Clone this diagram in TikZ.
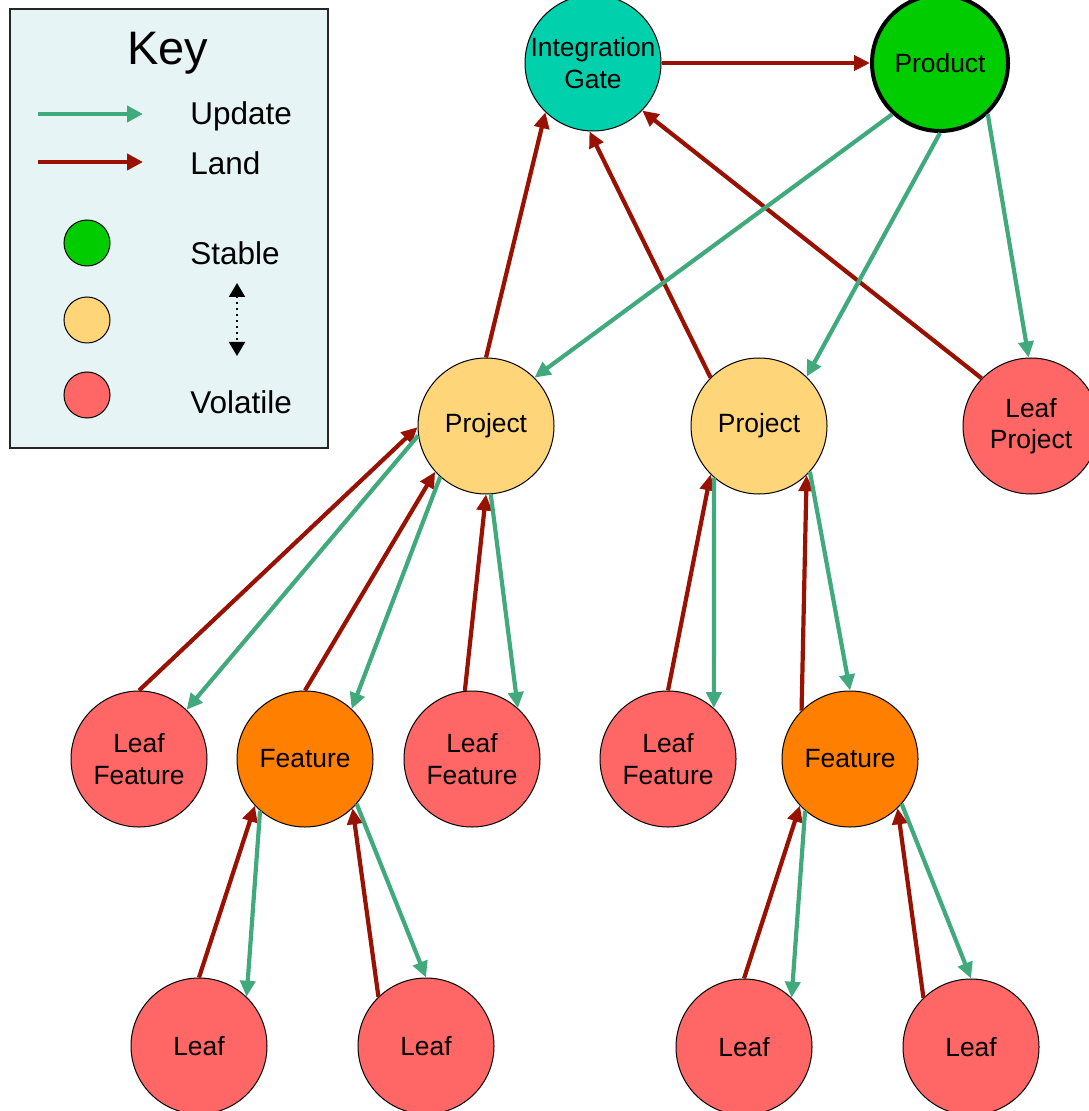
\documentclass[tikz,border=0pt]{standalone}
\usepackage{fontspec}
\setsansfont{Liberation Sans}
\usetikzlibrary{arrows.meta}
\definecolor{updc}{RGB}{64,170,125}
\definecolor{landc}{RGB}{153,17,0}
\definecolor{gatec}{RGB}{0,208,172}
\definecolor{stablec}{RGB}{0,204,0}
\definecolor{projc}{RGB}{255,213,121}
\definecolor{featc}{RGB}{255,127,0}
\definecolor{leafc}{RGB}{255,102,102}
\definecolor{keyc}{RGB}{230,244,245}
\tikzset{upd/.style={draw=updc, line width=2.1pt, -{Triangle[length=8pt,width=7.5pt]}},
  lnd/.style={draw=landc, line width=2.1pt, -{Triangle[length=8pt,width=7.5pt]}},
  bub/.style={circle, draw, line width=0.5pt, minimum size=68pt, inner sep=0pt, align=center,
    font=\sffamily\fontsize{13.2}{15.6}\selectfont},
  dot/.style={circle, draw, line width=0.5pt, minimum size=23pt, inner sep=0pt},
  lbl/.style={anchor=west, inner sep=0pt, font=\sffamily\fontsize{15.75}{18}\selectfont}}

\begin{document}
\begin{tikzpicture}[x=0.5pt, y=-0.5pt, font=\sffamily]
  \useasboundingbox (0,0) rectangle (1088,1111);
  \draw[fill=keyc, draw=black!85, line width=1pt] (10,9) rectangle (328,448);
  \node[font=\sffamily\fontsize{23.5}{26}\selectfont] (key) at (168,53) {Key};
  \coordinate (ua) at (38,114);  \coordinate (ub) at (143,114);
  \coordinate (la) at (38,162);  \coordinate (lb) at (143,162);
  \draw[upd, -{Triangle[length=8pt,width=8pt]}] (ua) -- (ub);
  \draw[lnd, -{Triangle[length=8pt,width=8pt]}] (la) -- (lb);
  \node[lbl] (tu) at (190,116) {Update};
  \node[lbl] (tl) at (190,163) {Land};
  \node[dot, fill=stablec] (ks) at (87,243) {};
  \node[dot, fill=projc] (km) at (87,320) {};
  \node[dot, fill=leafc] (kv) at (87,395) {};
  \node[lbl] (ts) at (190,253) {Stable};
  \node[lbl] (tv) at (190,402) {Volatile};
  \coordinate (da) at (237,283); \coordinate (db) at (237,356);
  \draw[line width=1pt, dotted, {Triangle[length=7pt,width=8pt]}-{Triangle[length=7pt,width=8pt]}] (da) -- (db);

  \node[bub, fill=gatec] (ig) at (593,63) {Integration\\Gate};
  \node[bub, fill=stablec, line width=2pt] (prod) at (940,63) {Product};
  \node[bub, fill=projc] (p1) at (486,426) {Project};
  \node[bub, fill=projc] (p2) at (759,426) {Project};
  \node[bub, fill=leafc] (lp) at (1031,426) {Leaf\\Project};
  \node[bub, fill=leafc] (lf1) at (139,759) {Leaf\\Feature};
  \node[bub, fill=featc] (f1) at (305,759) {Feature};
  \node[bub, fill=leafc] (lf2) at (472,759) {Leaf\\Feature};
  \node[bub, fill=leafc] (lf3) at (668,759) {Leaf\\Feature};
  \node[bub, fill=featc] (f2) at (850,759) {Feature};
  \node[bub, fill=leafc] (l1) at (199,1046) {Leaf};
  \node[bub, fill=leafc] (l2) at (426,1046) {Leaf};
  \node[bub, fill=leafc] (l3) at (744,1047) {Leaf};
  \node[bub, fill=leafc] (l4) at (971,1047) {Leaf};

  \draw[lnd] (ig.east) -- (prod.west);
  \draw[lnd] (p1.north) -- (ig.226);
  \draw[lnd] (p2.135) -- (ig.267);
  \draw[lnd] (lp.136) -- (ig.316);
  \draw[upd] (prod.227) -- (p1.45);
  \draw[upd] (prod.south) -- (p2.46);
  \draw[upd] (prod.313) -- (lp.92);

  \draw[lnd] (lf1.north) -- (p1.181);
  \draw[upd] (p1.188) -- (lf1.46);
  \draw[lnd] (f1.north) -- (p1.222);
  \draw[upd] (p1.228) -- (f1.47);
  \draw[lnd] (lf2.96) -- (p1.270);
  \draw[upd] (p1.274) -- (lf2.48);
  \draw[lnd] (lf3.north) -- (p2.225);
  \draw[upd] (p2.229) -- (lf3.48);
  \draw[lnd] (f2.135) -- (p2.314);
  \draw[upd] (p2.318) -- (f2.north);

  \draw[lnd] (l1.north) -- (f1.223);
  \draw[upd] (f1.229) -- (l1.46);
  \draw[lnd] (l2.134) -- (f1.314);
  \draw[upd] (f1.319) -- (l2.north);
  \draw[lnd] (l3.north) -- (f2.223);
  \draw[upd] (f2.229) -- (l3.46);
  \draw[lnd] (l4.134) -- (f2.314);
  \draw[upd] (f2.319) -- (l4.north);
\end{tikzpicture}
\end{document}
